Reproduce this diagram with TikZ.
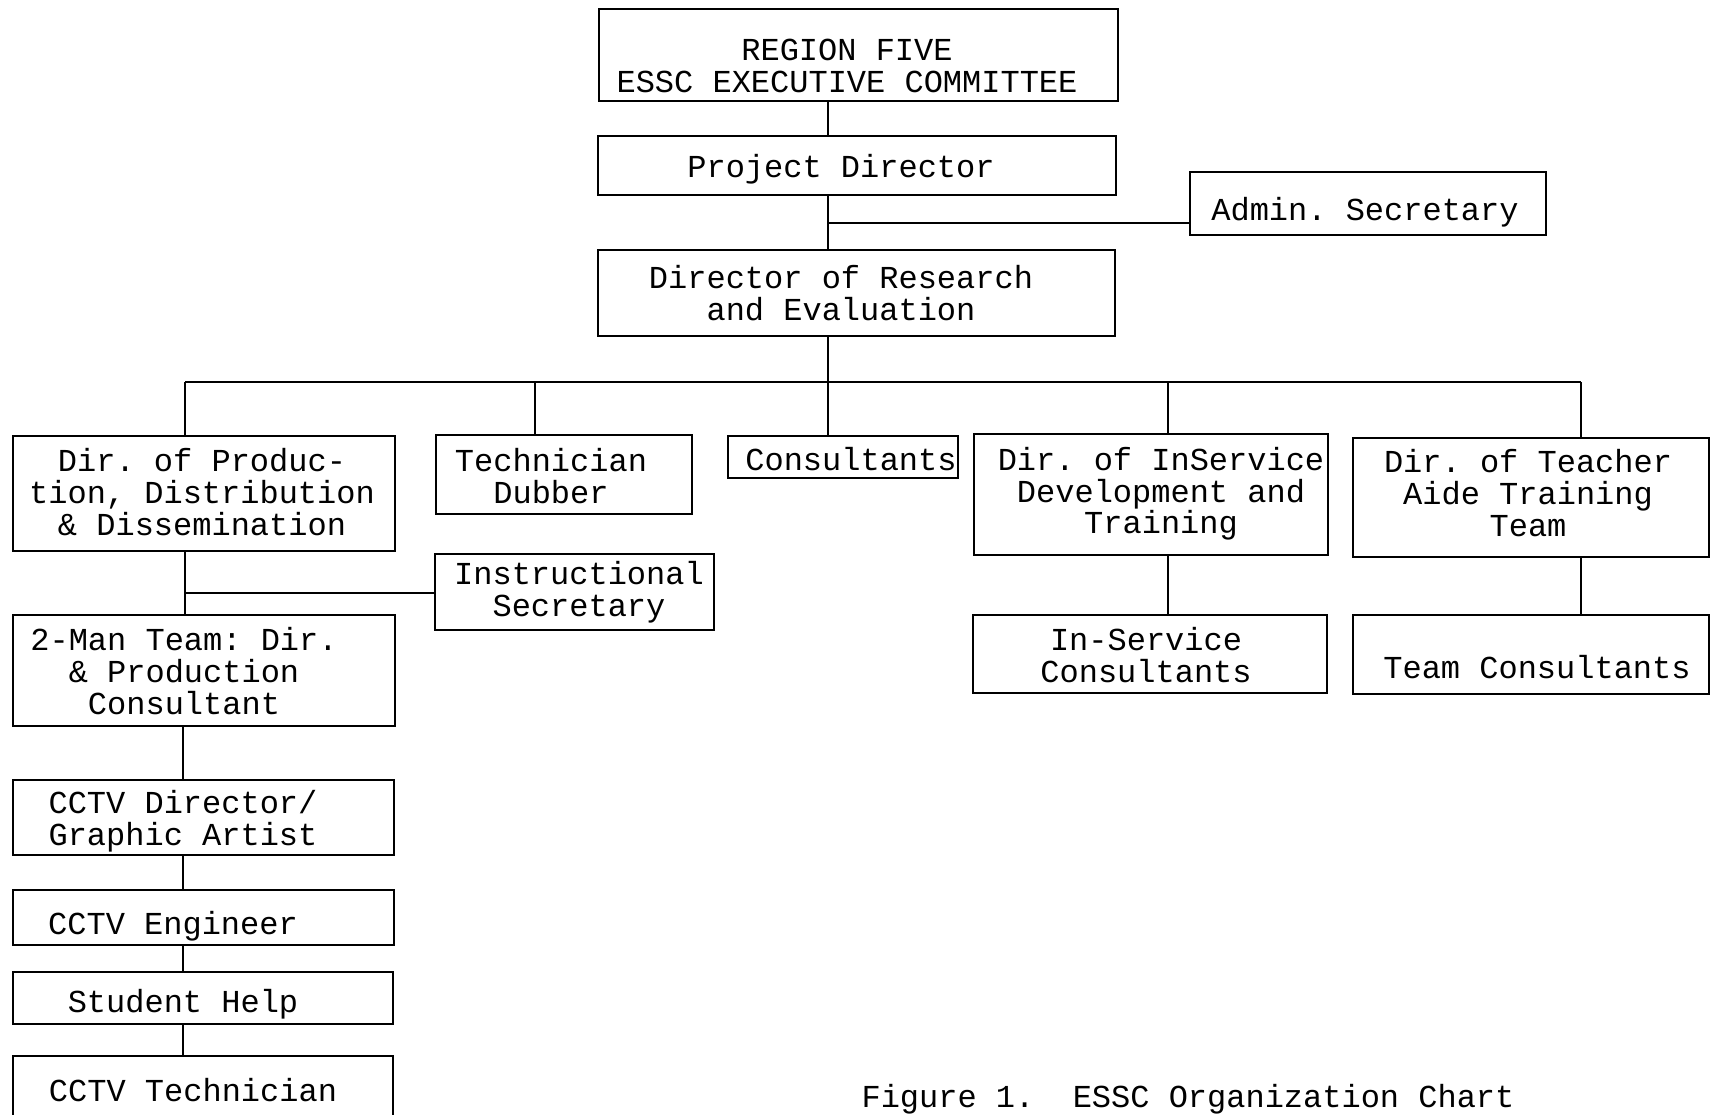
\documentclass[tikz,border=0pt]{standalone}
\usepackage{fontspec}
\newfontfamily\tw{Liberation Mono}
\usetikzlibrary{fit}
\begin{document}
\frenchspacing
\begin{tikzpicture}[x=0.5pt,y=-0.5pt,
  orgbox/.style={draw, line width=1.2pt, inner sep=0pt},
  lbl/.style={font=\tw\fontsize{16}{15.8}\selectfont, align=center, inner sep=0pt},
  conn/.style={line width=1.1pt}]
\useasboundingbox[fill=white] (0,0) rectangle (1711,1114);
\newcommand\orgunit[8]{%
  \node[orgbox, fit={(#2,#3) (#4,#5)}] (#1) {};
  \node[lbl] (#1-t) at (#6,#7) {#8};}
\orgunit{exec}{599}{9}{1118}{101}{847}{66}{REGION FIVE\\ESSC EXECUTIVE COMMITTEE}
\orgunit{pd}{598}{136}{1116}{195}{841}{169}{Project Director}
\orgunit{admin}{1190}{172}{1546}{235}{1365}{212}{Admin. Secretary}
\orgunit{dre}{598}{250}{1115}{336}{841}{293}{Director of Research\\and Evaluation}
\orgunit{dirprod}{13}{436}{395}{551}{202}{492}{Dir. of Produc-\\tion, Distribution\\\& Dissemination}
\orgunit{techdub}{436}{435}{692}{514}{551}{476}{Technician\\Dubber}
\orgunit{consult}{728}{436}{958}{478}{851}{459}{Consultants}
\orgunit{dirins}{974}{434}{1328}{555}{1161}{494}{Dir. of InService\\Development and\\Training}
\orgunit{dirteach}{1353}{438}{1709}{557}{1528}{493}{Dir. of Teacher\\Aide Training\\Team}
\orgunit{instsec}{435}{554}{714}{630}{579}{592}{Instructional\\Secretary}
\orgunit{twoman}{13}{615}{395}{726}{184}{671}{2-Man Team: Dir.\\\& Production\\Consultant}
\orgunit{inscons}{973}{615}{1327}{693}{1146}{655}{In-Service\\Consultants}
\orgunit{teamcons}{1353}{615}{1709}{694}{1537}{667}{Team Consultants}
\orgunit{cctvdir}{13}{780}{394}{855}{183}{821}{CCTV Director/\\Graphic Artist}
\orgunit{cctveng}{13}{890}{394}{945}{173}{926}{CCTV Engineer}
\orgunit{student}{13}{972}{393}{1024}{183}{1004}{Student Help}
\orgunit{cctvtech}{13}{1056}{393}{1150}{193}{1090}{CCTV Technician}
\node[lbl] (caption) at (1188,1099) {Figure 1.\ \ ESSC Organization Chart};
% connector coordinates
\coordinate (sp) at (828,0);
\coordinate (aj) at (828,223);
\coordinate (bus) at (0,382);
\coordinate (xa) at (185,0);
\coordinate (xb) at (535,0);
\coordinate (xc) at (183,0);
\coordinate (xd) at (1168,0);
\coordinate (xe) at (1581,0);
\coordinate (ij) at (185,593);
% connectors
\draw[conn] (exec.south -| sp) -- (pd.north -| sp);
\draw[conn] (pd.south -| sp) -- (dre.north -| sp);
\draw[conn] (aj) -- (aj -| admin.west);
\draw[conn] (dre.south -| sp) -- (consult.north -| sp);
\draw[conn] (xa |- bus) -- (xe |- bus);
\draw[conn] (xa |- bus) -- (dirprod.north -| xa);
\draw[conn] (xb |- bus) -- (techdub.north -| xb);
\draw[conn] (xd |- bus) -- (dirins.north -| xd);
\draw[conn] (xe |- bus) -- (dirteach.north -| xe);
\draw[conn] (dirprod.south -| xa) -- (twoman.north -| xa);
\draw[conn] (ij) -- (ij -| instsec.west);
\draw[conn] (twoman.south -| xc) -- (cctvdir.north -| xc);
\draw[conn] (cctvdir.south -| xc) -- (cctveng.north -| xc);
\draw[conn] (cctveng.south -| xc) -- (student.north -| xc);
\draw[conn] (student.south -| xc) -- (cctvtech.north -| xc);
\draw[conn] (dirins.south -| xd) -- (inscons.north -| xd);
\draw[conn] (dirteach.south -| xe) -- (teamcons.north -| xe);
\end{tikzpicture}
\end{document}
